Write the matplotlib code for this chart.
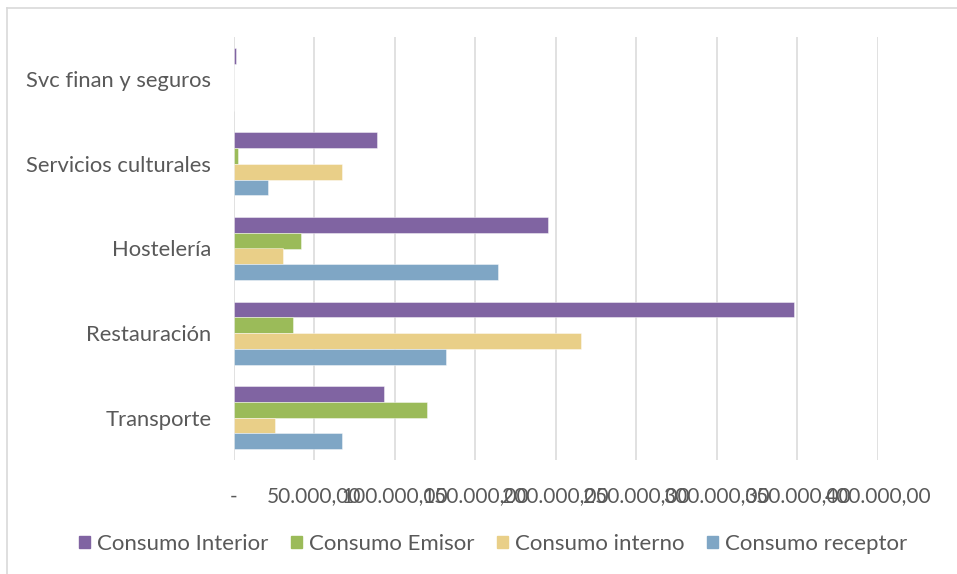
import matplotlib
matplotlib.use("Agg")
import matplotlib.pyplot as plt
from matplotlib.lines import Line2D
import numpy as np

categories = ["Transporte", "Restauración", "Hostelería", "Servicios culturales", "Svc finan y seguros"]
series_names = ["Consumo Interior", "Consumo Emisor", "Consumo interno", "Consumo receptor"]
consumo_interior = [93500, 348000, 195000, 89100, 1500]
consumo_emisor = [119900, 36900, 42000, 2900, 100]
consumo_interno = [26000, 215700, 30600, 67600, 300]
consumo_receptor = [67200, 131800, 164400, 21500, 300]
colors = ["#8064A2", "#9BBB59", "#E9CF88", "#7FA6C5"]
xticks = [0, 50000, 100000, 150000, 200000, 250000, 300000, 350000, 400000]
xtick_labels = ["-", "50.000,00", "100.000,00", "150.000,00", "200.000,00",
                "250.000,00", "300.000,00", "350.000,00", "400.000,00"]

plt.rcParams['font.family'] = ['Lato', 'DejaVu Sans']
W, H = 957, 574
fig = plt.figure(figsize=(W / 100, H / 100), dpi=100)
x0, x1, y0, y1 = 233.5, 878, 37, 460
ax = fig.add_axes([x0 / W, 1 - y1 / H, (x1 - x0) / W, (y1 - y0) / H])

data = [consumo_interior, consumo_emisor, consumo_interno, consumo_receptor]
bw = 0.186
offsets = [1.5, 0.5, -0.5, -1.5]
y = np.arange(len(categories))
for vals, c, off, name in zip(data, colors, offsets, series_names):
    ax.barh(y + off * bw, vals, height=bw, color=c, edgecolor=(1, 1, 1, 0.5),
            linewidth=0.6, label=name, zorder=3)

ax.set_xlim(0, 400000)
ax.set_ylim(-0.5, len(categories) - 0.5)
ax.set_xticks(xticks)
ax.set_xticklabels(xtick_labels, fontsize=15, color="#595959")
ax.set_yticks(y)
ax.set_yticklabels(categories, fontsize=15.8, color="#595959")
ax.tick_params(axis='x', length=0, pad=19)
ax.tick_params(axis='y', length=0, pad=16)
ax.xaxis.grid(True, color="#D9D9D9", linewidth=1.1, zorder=0)
ax.set_axisbelow(True)
for s in ax.spines.values():
    s.set_visible(False)

handles = [plt.Rectangle((0, 0), 1, 1, color=c) for c in colors]
fig.legend(handles, series_names, loc='center', bbox_to_anchor=(493 / W, 1 - 544 / H),
           ncol=4, frameon=False, fontsize=16, labelcolor="#595959",
           handlelength=0.5, handleheight=0.5, handletextpad=0.32, columnspacing=1.0)

# chart border
fig.add_artist(Line2D([7 / W, 7 / W], [0, 1 - 8 / H], color="#D9D9D9", linewidth=1.2))
fig.add_artist(Line2D([7 / W, 1], [1 - 8 / H, 1 - 8 / H], color="#D9D9D9", linewidth=1.2))

fig.savefig("out.png", dpi=100)
